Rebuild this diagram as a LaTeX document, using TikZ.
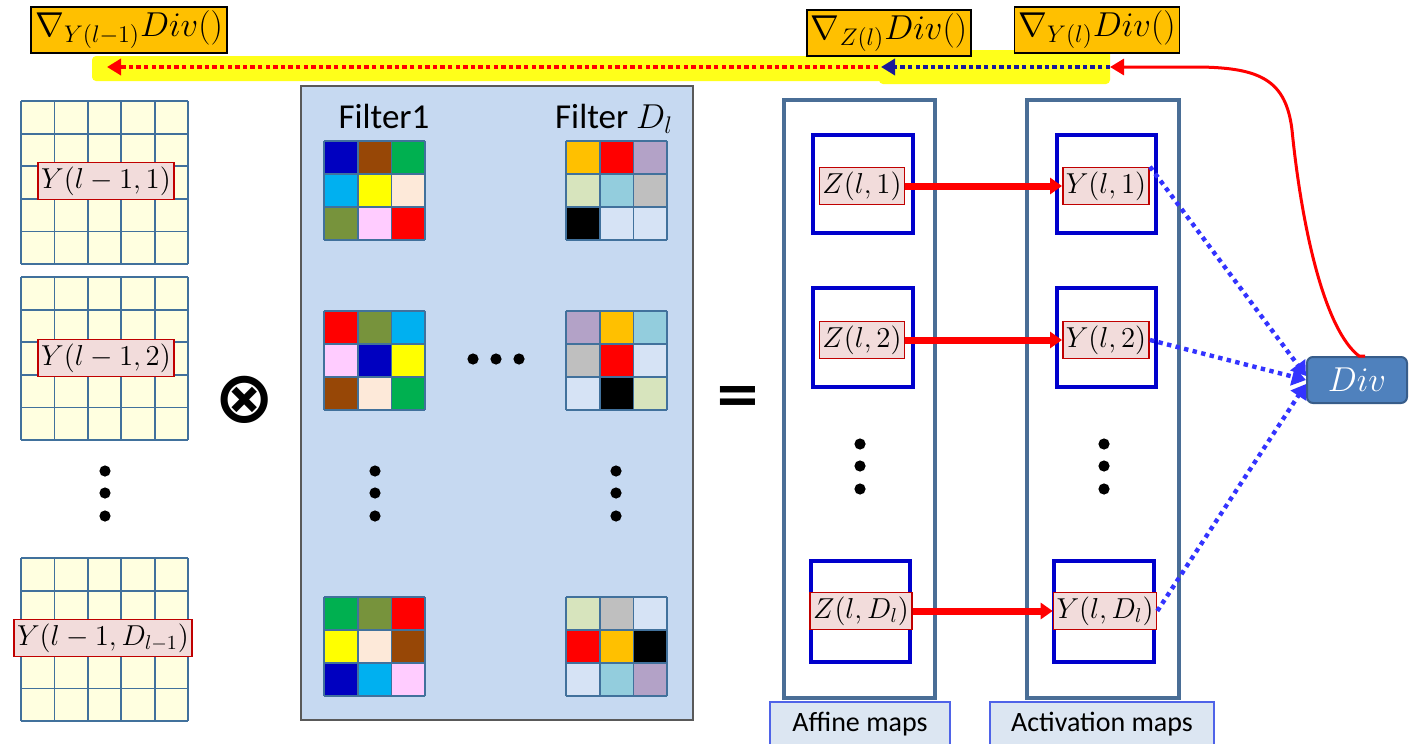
\documentclass[tikz,border=0pt]{standalone}
\usepackage{fontspec}
\newfontfamily\calib{Carlito}
\newfontfamily\dejavu{DejaVu Sans}
\usetikzlibrary{arrows.meta,calc}
\definecolor{hlyellow}{HTML}{FFFF1A}
\definecolor{gradorange}{HTML}{FFC000}
\definecolor{lblfill}{HTML}{F2DCDB}
\definecolor{lblred}{HTML}{C00000}
\definecolor{gridfill}{HTML}{FFFFE0}
\definecolor{gridline}{HTML}{41719C}
\definecolor{panelfill}{HTML}{C6D9F1}
\definecolor{panelline}{HTML}{595959}
\definecolor{outerline}{HTML}{4A6E96}
\definecolor{innerblue}{HTML}{0000CC}
\definecolor{dotblue}{HTML}{3333FF}
\definecolor{navyblue}{HTML}{1A1A99}
\definecolor{divfill}{HTML}{4F81BD}
\definecolor{divline}{HTML}{385D8A}
\definecolor{mapfill}{HTML}{DCE6F2}
\definecolor{mapline}{HTML}{4F63E8}
\definecolor{fblue}{HTML}{0000C0}
\definecolor{fbrown}{HTML}{974706}
\definecolor{fgreen}{HTML}{00B050}
\definecolor{fcyan}{HTML}{00B0F0}
\definecolor{fyellow}{HTML}{FFFF00}
\definecolor{fpeach}{HTML}{FDE9D9}
\definecolor{folive}{HTML}{77933C}
\definecolor{fpink}{HTML}{FFCCFF}
\definecolor{fred}{HTML}{FF0000}
\definecolor{forange}{HTML}{FFC000}
\definecolor{flav}{HTML}{B3A2C7}
\definecolor{fpale}{HTML}{D7E4BD}
\definecolor{flblue}{HTML}{93CDDD}
\definecolor{fgray}{HTML}{BFBFBF}
\definecolor{fblack}{HTML}{000000}
\definecolor{fempty}{HTML}{D6E3F5}
\tikzset{
  lbl/.style={draw=lblred, fill=lblfill, line width=0.8pt, inner sep=1.5pt,
    minimum height=18.5pt, font=\fontsize{14.5}{16}\selectfont},
  grad/.style={draw=black, fill=gradorange, line width=0.8pt, inner sep=2pt,
    minimum height=23pt, font=\fontsize{17}{19}\selectfont},
  filt/.style={font=\calib\fontsize{17.5}{19}\selectfont, inner sep=0pt, anchor=base},
  bigsym/.style={font=\dejavu\bfseries\fontsize{36}{36}\selectfont, inner sep=0pt},
  gline/.style={draw=gridline, line width=0.9pt},
  outerbox/.style={draw=outerline, line width=1.6pt},
  innerbox/.style={draw=innerblue, line width=2pt},
  thickarrow/.style={draw=red, line width=3.5pt, -{Triangle[length=6pt,width=8pt]}},
  bluedotarrow/.style={draw=dotblue, line width=2.2pt, dash pattern=on 2.2pt off 2.2pt,
    -{Triangle[length=7pt,width=9pt]}},
  mapbox/.style={draw=mapline, fill=mapfill, line width=0.6pt, minimum height=22pt,
    font=\calib\fontsize{14}{16}\selectfont},
  divnode/.style={draw=divline, fill=divfill, line width=1pt, rounded corners=3pt,
    minimum width=50pt, minimum height=23pt, text=white, font=\fontsize{18}{20}\selectfont},
}
\newcommand\bigGrid[2]{%
  \fill[gridfill] (#1,#2) rectangle ({#1+167},{#2+163});
  \foreach \ii in {0,...,5}{%
    \draw[gline] ({#1+\ii*33.4},#2) -- ({#1+\ii*33.4},{#2+163});
    \draw[gline] (#1,{#2+\ii*32.6}) -- ({#1+167},{#2+\ii*32.6});
  }%
}
\newcommand\colGrid[3]{%
  \foreach \cc [count=\kk from 0] in {#3}{%
    \pgfmathtruncatemacro\rr{\kk/3}%
    \pgfmathtruncatemacro\ccol{mod(\kk,3)}%
    \fill[\cc] ({#1+\ccol*33.7},{#2+\rr*33}) rectangle ++(33.7,33);
  }%
  \foreach \ii in {0,...,3}{%
    \draw[gline] ({#1+\ii*33.7},#2) -- ({#1+\ii*33.7},{#2+99});
    \draw[gline] (#1,{#2+\ii*33}) -- ({#1+101.1},{#2+\ii*33});
  }%
}
\begin{document}
\begin{tikzpicture}[x=0.5pt,y=-0.5pt]
\useasboundingbox (0,0) rectangle (1409,744);

% ---------- top bar ----------
\fill[hlyellow, rounded corners=2pt] (92,56) rectangle (1108,81);
\fill[hlyellow, rounded corners=2pt] (879,50) rectangle (1110,84);
\coordinate (barR) at (1110,67);
\coordinate (barM) at (881,67);
\coordinate (barL) at (107,67);
\draw[red, line width=2.2pt, dash pattern=on 2.2pt off 1.6pt,
      -{Triangle[length=7pt,width=8pt]}] (878,67) -- (barL);
\draw[navyblue, line width=2.2pt, dash pattern=on 2.2pt off 1.6pt,
      -{Triangle[length=7pt,width=8pt]}] (barR) -- (barM);

\node[grad] (g1) at (129,30) {$\nabla_{Y(l-1)}Div()$};
\node[grad] (g2) at (889,33) {$\nabla_{Z(l)}Div()$};
\node[grad] (g3) at (1097,30) {$\nabla_{Y(l)}Div()$};

% ---------- left input maps ----------
\bigGrid{21}{101}
\bigGrid{21}{277}
\bigGrid{21}{558}
\node[lbl] (y1) at (106,181) {$Y(l-1,1)$};
\node[lbl] (y2) at (106,358) {$Y(l-1,2)$};
\node[lbl] (y3) at (103,638) {$Y(l-1,D_{l-1})$};
\foreach \yy in {471,493,516}{\fill (105,\yy) circle (2.8pt);}

\node[bigsym] (otimes) at (245,400) {⊗};

% ---------- filters ----------
\filldraw[fill=panelfill, draw=panelline, line width=0.6pt] (301,86) rectangle (693,720);
\node[filt] (f1t) at (384,128) {Filter1};
\node[filt] (fdt) at (614,128) {Filter $D_l$};
\colGrid{324}{141}{fblue,fbrown,fgreen,fcyan,fyellow,fpeach,folive,fpink,fred}
\colGrid{566}{141}{forange,fred,flav,fpale,flblue,fgray,fblack,fempty,fempty}
\colGrid{324}{311}{fred,folive,fcyan,fpink,fblue,fyellow,fbrown,fpeach,fgreen}
\colGrid{566}{311}{flav,forange,flblue,fgray,fred,fempty,fempty,fblack,fpale}
\colGrid{324}{597}{fgreen,folive,fred,fyellow,fpeach,fbrown,fblue,fcyan,fpink}
\colGrid{566}{597}{fpale,fgray,fempty,fred,forange,fblack,fempty,flblue,flav}
\foreach \xx in {473,496,519}{\fill (\xx,359) circle (2.8pt);}
\foreach \yy in {471,493,516}{\fill (375,\yy) circle (2.8pt); \fill (616,\yy) circle (2.8pt);}

\node[bigsym, font=\dejavu\bfseries\fontsize{28}{28}\selectfont] (eq) at (738,400) {=};

% ---------- affine / activation maps ----------
\draw[outerbox] (784,100) rectangle (935,698);
\draw[outerbox] (1027,100) rectangle (1179,698);
\draw[innerbox] (813,135) rectangle (913,233);
\draw[innerbox] (813,288) rectangle (913,387);
\draw[innerbox] (811,561) rectangle (910,662);
\draw[innerbox] (1057,135) rectangle (1156,233);
\draw[innerbox] (1057,288) rectangle (1156,387);
\draw[innerbox] (1054,561) rectangle (1154,662);

\node[lbl] (z1) at (862,186) {$Z(l,1)$};
\node[lbl] (z2) at (862,340) {$Z(l,2)$};
\node[lbl] (zd) at (861,611) {$Z(l,D_l)$};
\node[lbl] (a1) at (1106,186) {$Y(l,1)$};
\node[lbl] (a2) at (1106,340) {$Y(l,2)$};
\node[lbl] (ad) at (1105,611) {$Y(l,D_l)$};

\foreach \yy in {444,466,489}{\fill (860,\yy) circle (2.8pt); \fill (1104,\yy) circle (2.8pt);}

\draw[thickarrow] (z1) -- (a1);
\draw[thickarrow] (z2) -- (a2);
\draw[thickarrow] (zd) -- (ad);

\node[mapbox, minimum width=90pt] (aff) at (860,724) {Affine maps};
\node[mapbox, minimum width=112pt] (act) at (1102,724) {Activation maps};

% ---------- Div ----------
\node[divnode] (div) at (1357,380) {$Div$};
\draw[bluedotarrow] (a1.north east) -- ([yshift=2pt]div.west);
\draw[bluedotarrow] (a2.east) -- (div.west);
\draw[bluedotarrow] (ad.east) -- ([yshift=-2pt]div.west);

\draw[red, line width=1.5pt, -{Triangle[length=7pt,width=8pt]}]
  ([xshift=4pt]div.north) -- ([xshift=1pt]div.north)
  .. controls (1325,330) and (1302,230) .. (1292,130)
  .. controls (1286,80) and (1260,68) .. (1200,67) -- (barR);
\end{tikzpicture}
\end{document}
